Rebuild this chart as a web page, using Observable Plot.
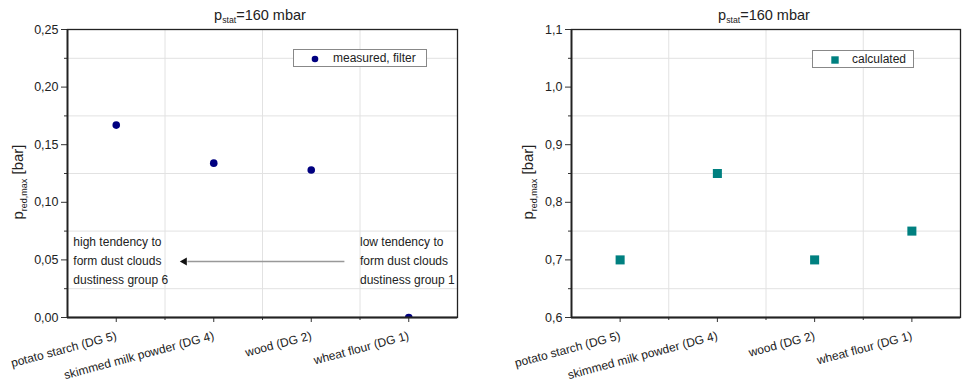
<!DOCTYPE html>
<html><head><meta charset="utf-8">
<script src="https://cdn.jsdelivr.net/npm/d3@7"></script>
<script src="https://cdn.jsdelivr.net/npm/@observablehq/plot@0.6"></script>
<style>
body{margin:0;background:#fff;font-family:"Liberation Sans",Arial,sans-serif;color:#222}
#wrap{position:relative;width:962px;height:385px;overflow:hidden;background:#fff}
.panel{position:absolute;top:0}
.title{position:absolute;font-size:14.5px;line-height:18px;transform:translateX(-50%);white-space:nowrap;top:6px}
.title sub,.ylab sub{font-size:0.6em;vertical-align:-0.35em}
.ylab{position:absolute;font-size:15px;line-height:18px;white-space:nowrap;transform:translate(-50%,-50%) rotate(-90deg)}
.legend{position:absolute;border:1px solid #888;background:#fff;font-size:12px;height:18px;box-sizing:border-box;line-height:16px;white-space:nowrap}
.legend .mk{position:absolute;top:5px}
.legend .tx{position:absolute;top:0}
</style></head>
<body><div id="wrap"></div>
<script>
const categories = ["potato starch (DG 5)", "skimmed milk powder (DG 4)", "wood (DG 2)", "wheat flour (DG 1)"];
const measured = [0.167, 0.134, 0.128, 0.0];
const calculated = [0.70, 0.85, 0.70, 0.75];
const xTicks = [1, 2, 3, 4];
const xMinor = [1.5, 2.5, 3.5];
const yTicksLeft = [0, 0.05, 0.10, 0.15, 0.20, 0.25];
const yMinorLeft = [0.025, 0.075, 0.125, 0.175, 0.225];
const yTicksRight = [0.6, 0.7, 0.8, 0.9, 1.0, 1.1];
const yMinorRight = [0.65, 0.75, 0.85, 0.95, 1.05];
const leftNote = ["high tendency to", "form dust clouds", "dustiness group 6"];
const rightNote = ["low tendency to", "form dust clouds", "dustiness group 1"];
const noteX = [0.56, 3.5];
const noteY = 0.0512;
const arrowX = [3.34, 1.70];
const arrowY = 0.0486;

const measuredRows = categories.map((c, i) => ({cat: c, i: i + 1, v: measured[i]}));
const calcRows = categories.map((c, i) => ({cat: c, i: i + 1, v: calculated[i]}));

const comma = (f) => (d) => d3.format(f)(d).replace(".", ",");

function panel({width, marginLeft, marginRight, yDomain, yTicks, yMinor, fmt, extra}) {
  return Plot.plot({
    width, height: 385,
    marginTop: 29, marginBottom: 68, marginLeft, marginRight,
    style: {fontFamily: "Liberation Sans, Arial, sans-serif", fontSize: "12px", color: "#222", background: "white", overflow: "visible"},
    x: {domain: [0.5, 4.5]},
    y: {domain: yDomain},
    marks: [
      Plot.gridX(xMinor, {stroke: "#e2e2e2", strokeOpacity: 1}),
      Plot.gridY(yMinor, {stroke: "#e2e2e2", strokeOpacity: 1}),
      Plot.axisY(yTicks, {tickSize: 6, tickPadding: 3, fontSize: 12.5, tickFormat: comma(fmt), label: null, stroke: "#333"}),
      Plot.axisY(yMinor, {tickSize: 3, tickFormat: () => "", label: null, stroke: "#333"}),
      Plot.axisX(xTicks, {tickSize: 5, tickPadding: 13, tickRotate: -15, fontSize: 12, tickFormat: (d) => categories[d - 1], label: null, stroke: "#333"}),
      Plot.axisX(xMinor, {tickSize: 3, tickFormat: () => "", label: null, stroke: "#333"}),
      ...extra,
      Plot.frame({stroke: "#222", strokeWidth: 1.3}),
      Plot.ruleX([0.5], {stroke: "#222", strokeWidth: 1.8}),
      Plot.ruleY([yDomain[0]], {stroke: "#222", strokeWidth: 1.8})
    ]
  });
}

const left = panel({
  width: 480, marginLeft: 67, marginRight: 23,
  yDomain: [0, 0.25], yTicks: yTicksLeft, yMinor: yMinorLeft, fmt: ".2f",
  extra: [
    Plot.link([arrowY], {x1: arrowX[0], x2: arrowX[1] + 0.03, y1: (d) => d, y2: (d) => d, stroke: "#999", strokeWidth: 1.5}),
    Plot.dot([arrowY], {x: arrowX[1], y: (d) => d, symbol: "triangle", rotate: -90, r: 3, fill: "#111", stroke: null}),
    Plot.text([leftNote.join("\n"), rightNote.join("\n")], {x: (d, i) => noteX[i], y: () => noteY, text: (d) => d, textAnchor: "start", lineHeight: 1.58, fontSize: 12, fill: "#222"}),
    Plot.dot(measuredRows, {x: "i", y: "v", r: 3.8, fill: "#000080", stroke: null, clip: true})
  ]
});
const right = panel({
  width: 482, marginLeft: 91, marginRight: 2,
  yDomain: [0.6, 1.1], yTicks: yTicksRight, yMinor: yMinorRight, fmt: ".1f",
  extra: [
    Plot.dot(calcRows, {x: "i", y: "v", symbol: "square", r: 5.1, fill: "#008080", stroke: null, clip: true})
  ]
});

const wrap = document.getElementById("wrap");
left.classList.add("panel"); left.style.left = "0px";
right.classList.add("panel"); right.style.left = "480px";
wrap.appendChild(left); wrap.appendChild(right);

function add(html, cls, style) {
  const d = document.createElement("div");
  d.className = cls; d.innerHTML = html;
  Object.assign(d.style, style);
  wrap.appendChild(d);
  return d;
}
add("p<sub>stat</sub>=160 mbar", "title", {left: "260px"});
add("p<sub>stat</sub>=160 mbar", "title", {left: "764px"});
add("p<sub>red,max</sub> [bar]", "ylab", {left: "21px", top: "182px"});
add("p<sub>red,max</sub> [bar]", "ylab", {left: "531px", top: "182px"});
add('<svg class="mk" width="8" height="8" style="left:17px"><circle cx="4" cy="4" r="3.3" fill="#000080"/></svg><span class="tx" style="left:39px">measured, filter</span>', "legend", {left: "293px", top: "49px", width: "134px"});
add('<svg class="mk" width="8" height="8" style="left:18px"><rect x="0.3" y="0.3" width="7.4" height="7.4" fill="#008080"/></svg><span class="tx" style="left:39px">calculated</span>', "legend", {left: "812px", top: "50px", width: "102px"});
</script>
</body></html>
